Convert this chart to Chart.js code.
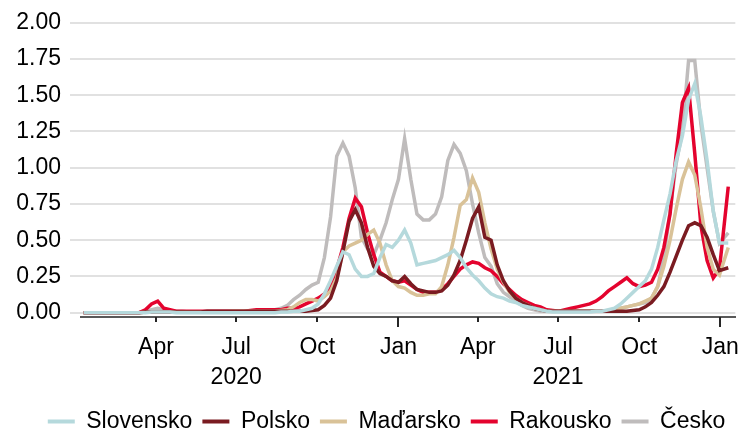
<!DOCTYPE html>
<html lang="cs">
<head>
<meta charset="UTF-8">
<title>Slovensko, Polsko, Maďarsko, Rakousko, Česko</title>
<script src="https://cdn.jsdelivr.net/npm/chart.js@4"></script>
<style>
    body { margin: 0; padding: 0; background: #fff; }
    #wrap { width: 747px; height: 433px; }
</style>
</head>
<body>
<div id="wrap"><canvas id="myChart" width="747" height="433"></canvas></div>
<script>
// days since 1 Jan 2020 (weekly readings)
const days = [9,16,23,30,37,44,51,58,65,72,79,86,93,100,107,114,121,128,135,142,149,156,163,170,177,184,191,198,205,212,219,226,233,240,247,254,261,268,275,282,289,296,303,310,317,324,331,338,345,352,359,366,373,380,387,394,401,408,415,422,429,436,443,450,457,464,471,478,485,492,499,506,513,520,527,534,541,548,555,562,569,576,583,590,597,604,611,618,625,632,639,646,653,660,667,674,681,688,695,702,709,716,723,730,740];

const slovensko = [0,0,0,0,0,0,0,0,0,0,
    0,0.005,0.005,0.005,0.005,0,0,0,0,0,
    0,0,0,0,0,0,0,0,0,0,
    0,0,0.005,0.005,0.01,0.01,
    0.02,0.03,0.06,0.13,0.22,0.32,0.42,0.40,0.30,0.25,
    0.25,0.27,0.38,0.47,0.45,0.50,0.57,0.48,0.33,0.34,
    0.35,0.36,0.38,0.40,0.43,0.38,0.31,0.26,0.22,0.17,
    0.13,0.11,0.10,0.08,0.07,0.05,0.04,0.03,0.02,0.01,
    0.005,0.005,0.005,0.005,0.005,0.005,0.005,0.01,0.01,0.02,
    0.03,0.06,0.10,0.14,0.18,0.22,0.30,0.45,0.64,0.82,
    1.05,1.22,1.47,1.58,1.35,1.05,0.70,0.48,0.48];

const polsko = [0,0,0,0,0,0,0,0,0,0,
    0.005,0.005,0.005,0.005,0.005,0.005,0.005,0.005,0.005,0.005,
    0.01,0.01,0.01,0.01,0.01,0.01,0.01,0.01,0.01,0.01,
    0.01,0.01,0.01,0.01,0.01,0.01,
    0.01,0.015,0.02,0.05,0.10,0.22,0.42,0.63,0.71,0.62,
    0.45,0.32,0.27,0.25,0.22,0.21,0.25,0.20,0.16,0.15,
    0.14,0.14,0.15,0.19,0.26,0.36,0.50,0.65,0.73,0.52,
    0.50,0.33,0.22,0.15,0.10,0.07,0.05,0.03,0.02,0.01,
    0.01,0.01,0.01,0.01,0.01,0.01,0.01,0.01,0.01,0.01,
    0.01,0.01,0.01,0.015,0.02,0.04,0.07,0.12,0.18,0.28,
    0.39,0.50,0.60,0.62,0.60,0.52,0.40,0.29,0.31];

const madarsko = [0,0,0,0,0,0,0,0,0,0,
    0.005,0.005,0.005,0.005,0.005,0.005,0.005,0.005,0.005,0.005,
    0.005,0.005,0.005,0.005,0.01,0.01,0.01,0.01,0.01,0.01,
    0.01,0.01,0.015,0.02,0.04,0.07,
    0.09,0.09,0.08,0.11,0.15,0.24,0.42,0.46,0.48,0.50,
    0.54,0.57,0.48,0.33,0.22,0.18,0.17,0.14,0.12,0.12,
    0.13,0.13,0.18,0.33,0.52,0.74,0.78,0.93,0.83,0.62,
    0.44,0.30,0.21,0.14,0.10,0.07,0.05,0.03,0.02,0.01,
    0.01,0.01,0.01,0.01,0.01,0.01,0.01,0.01,0.01,0.01,
    0.02,0.03,0.04,0.05,0.06,0.08,0.10,0.18,0.32,0.50,
    0.72,0.92,1.04,0.95,0.72,0.45,0.30,0.26,0.45];

const rakousko = [0,0,0,0,0,0,0,0,0,0,
    0.02,0.06,0.08,0.03,0.02,0.01,0.01,0.01,0.01,0.01,
    0.01,0.01,0.01,0.01,0.01,0.01,0.01,0.015,0.02,0.02,
    0.02,0.02,0.02,0.03,0.03,0.04,
    0.06,0.08,0.10,0.13,0.18,0.30,0.45,0.65,0.79,0.73,
    0.55,0.40,0.28,0.25,0.22,0.21,0.22,0.19,0.16,0.14,
    0.14,0.14,0.16,0.20,0.25,0.30,0.33,0.35,0.34,0.31,
    0.29,0.25,0.20,0.16,0.12,0.09,0.07,0.05,0.04,0.02,
    0.015,0.01,0.02,0.03,0.04,0.05,0.06,0.08,0.11,0.15,
    0.18,0.21,0.24,0.20,0.18,0.19,0.21,0.30,0.45,0.68,
    1.10,1.45,1.55,1.10,0.60,0.36,0.24,0.30,0.87];

const cesko = [0,0,0,0,0,0,0,0,0,0,
    0.01,0.02,0.03,0.02,0.01,0.01,0.01,0.005,0.005,0.005,
    0.005,0.005,0.005,0.005,0.01,0.01,0.01,0.01,0.01,0.01,
    0.02,0.02,0.03,0.05,0.09,0.12,
    0.16,0.19,0.21,0.38,0.66,1.08,1.17,1.08,0.86,0.52,
    0.44,0.40,0.50,0.62,0.78,0.92,1.20,0.92,0.68,0.64,
    0.64,0.68,0.80,1.05,1.16,1.10,0.98,0.75,0.55,0.38,
    0.32,0.20,0.14,0.11,0.08,0.05,0.03,0.02,0.01,0.01,
    0.01,0.01,0.01,0.01,0.01,0.01,0.01,0.01,0.01,0.01,
    0.02,0.03,0.04,0.05,0.06,0.07,0.10,0.18,0.38,0.70,
    1.03,1.25,1.74,1.74,1.30,1.00,0.70,0.48,0.55];

const seriesNames = ['Slovensko', 'Polsko', 'Maďarsko', 'Rakousko', 'Česko'];
const seriesColors = ['#b5d9dc', '#7a1b21', '#d9c298', '#e4032e', '#bfbcbc'];
const seriesValues = [slovensko, polsko, madarsko, rakousko, cesko];

const xTickDays = [91, 182, 274, 366, 456, 547, 639, 731];
const xTickNames = ['Apr', 'Jul', 'Oct', 'Jan', 'Apr', 'Jul', 'Oct', 'Jan'];
const xTickYears = ['', '2020', '', '', '', '2021', '', ''];
const yTicks = [0, 0.25, 0.5, 0.75, 1, 1.25, 1.5, 1.75, 2];

const FONT = "'Liberation Sans', Arial, sans-serif";
Chart.defaults.font.family = FONT;
Chart.defaults.font.size = 23;
Chart.defaults.color = '#000';

// short quarter ticks, longer ones at each new year
const tickMarks = {
    id: 'tickMarks',
    afterLayout(chart) {
        // legend sits a little right of centre in the original
        if (chart.legend) chart.legend.left = 32;
    },
    afterDraw(chart) {
        const ctx = chart.ctx;
        const x = chart.scales.x;
        const bottom = chart.chartArea.bottom;
        ctx.save();
        ctx.strokeStyle = '#262626';
        ctx.lineWidth = 2;
        xTickDays.forEach((d, i) => {
            const px = Math.round(x.getPixelForValue(d));
            const len = xTickNames[i] === 'Jan' ? 10 : 5;
            ctx.beginPath();
            ctx.moveTo(px, bottom);
            ctx.lineTo(px, bottom + len);
            ctx.stroke();
        });
        ctx.restore();
    }
};

const ctx = document.getElementById('myChart').getContext('2d');
new Chart(ctx, {
    type: 'line',
    data: {
        datasets: seriesNames.map((name, s) => ({
            label: name,
            data: days.map((d, i) => ({ x: d, y: seriesValues[s][i] })),
            borderColor: seriesColors[s],
            backgroundColor: seriesColors[s],
            borderWidth: 3.5,
            pointRadius: 0,
            tension: 0,
            fill: false
        }))
    },
    options: {
        responsive: false,
        animation: false,
        devicePixelRatio: 1,
        layout: { padding: { top: 20, right: 6, bottom: -10, left: 0 } },
        plugins: {
            legend: {
                position: 'bottom',
                labels: {
                    boxWidth: 27,
                    boxHeight: 4,
                    padding: 10,
                    color: '#000',
                    font: { size: 23 },
                    generateLabels: chart => Chart.defaults.plugins.legend.labels.generateLabels(chart)
                        .map(item => Object.assign(item, { fillStyle: item.strokeStyle, lineWidth: 0 }))
                }
            },
            tooltip: { enabled: false }
        },
        scales: {
            x: {
                type: 'linear',
                min: 6,
                max: 748,
                grid: { display: false },
                border: { display: true, color: '#595959', width: 2 },
                afterBuildTicks: scale => { scale.ticks = xTickDays.map(v => ({ value: v })); },
                afterFit: scale => { scale.height = 83; },
                ticks: {
                    autoSkip: false,
                    maxRotation: 0,
                    padding: 8,
                    color: '#000',
                    font: { size: 23, lineHeight: 1.28 },
                    callback: (value, index) => xTickYears[index] ? [xTickNames[index], xTickYears[index]] : xTickNames[index]
                }
            },
            y: {
                min: -0.03,
                max: 2,
                afterBuildTicks: scale => { scale.ticks = yTicks.map(v => ({ value: v })); },
                afterFit: scale => { scale.width = 81; },
                grid: { color: '#e1e1e1', lineWidth: 2, tickLength: 11, tickColor: '#e1e1e1' },
                border: { display: false },
                ticks: {
                    padding: 9,
                    color: '#000',
                    font: { size: 23 },
                    callback: value => value.toFixed(2)
                }
            }
        }
    },
    plugins: [tickMarks]
});
</script>
</body>
</html>
